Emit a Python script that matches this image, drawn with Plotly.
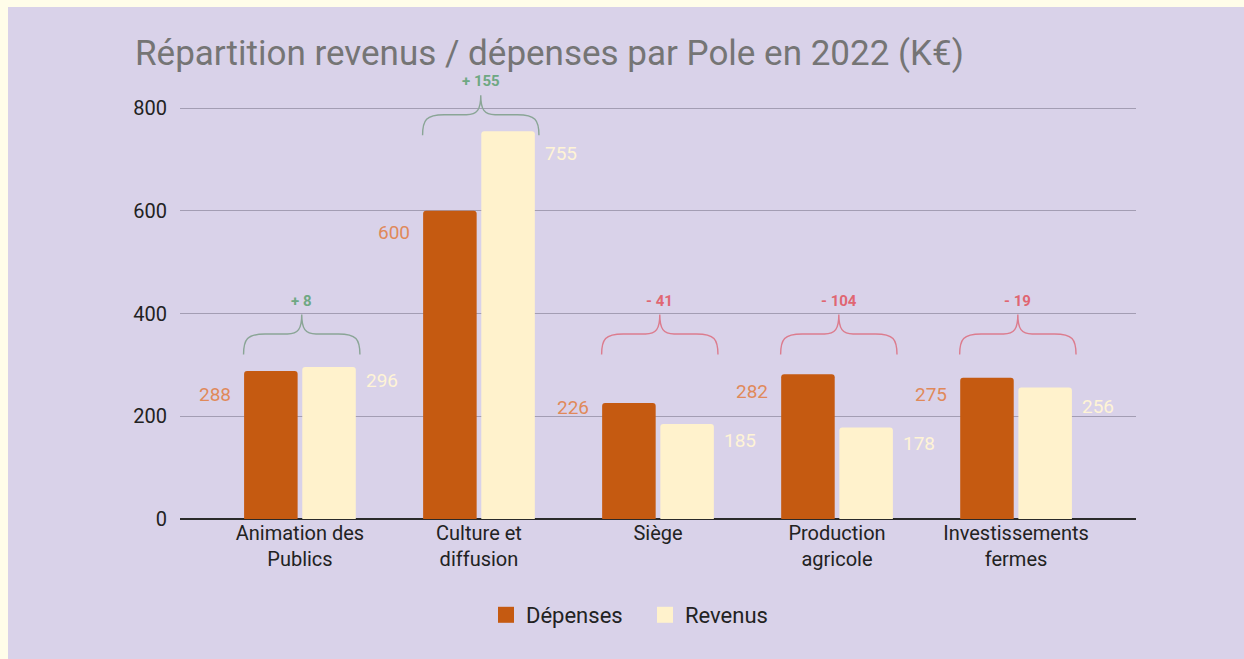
import plotly.graph_objects as go

categories = ["Animation des<br>Publics", "Culture et<br>diffusion", "Siège", "Production<br>agricole", "Investissements<br>fermes"]
depenses = [288, 600, 226, 282, 275]
revenus = [296, 755, 185, 178, 256]
y_ticks = [0, 200, 400, 600, 800]

# styling
C_DEP = "#C55A11"
C_REV = "#FFF2CC"
C_DEP_TXT = "#E0895A"
C_REV_TXT = "#FFF4D6"
C_POS = "#6FA883"
C_NEG = "#E06672"
C_POS_LINE = "#8AA596"
C_NEG_LINE = "#DC7C8E"
LAV = "#D9D2E9"
CREAM = "#FFFDE9"
FONT = "Roboto"

W, H = 1244, 659
ML, MT = 180, 70
PW, PH = 956, 449
MR = W - ML - PW
MB = H - MT - PH
YMAX = 874

dep_dy = [-23, -22, -5, -17, -17]
rev_dy = [-14, -22, -17, -16, -19]

x = list(range(len(categories)))

fig = go.Figure()
fig.add_trace(go.Bar(x=x, y=depenses, name="Dépenses", showlegend=False,
                     marker=dict(color=C_DEP, cornerradius=3, line_width=0)))
fig.add_trace(go.Bar(x=x, y=revenus, name="Revenus", showlegend=False,
                     marker=dict(color=C_REV, cornerradius=3, line_width=0)))
# legend entries with large square swatches
for name, col in [("Dépenses", C_DEP), ("Revenus", C_REV)]:
    fig.add_trace(go.Scatter(x=[None], y=[None], mode="markers", name=name,
                             marker=dict(symbol="square", size=16, color=col, line_width=0)))

shapes = []
# lavender card inside a thin cream frame (left 8px, top 7px)
shapes.append(dict(type="rect", xref="paper", yref="paper",
                   x0=(8 - ML) / PW, x1=(W + 5 - ML) / PW,
                   y0=-(H + 5 - MT - PH) / PH, y1=(MT + PH - 7) / PH,
                   fillcolor=LAV, line_width=0, layer="below"))
annotations = []
half = 0.325
for i, (d, r) in enumerate(zip(depenses, revenus)):
    diff = r - d
    pos = diff >= 0
    base = max(320, max(d, r) - 8)
    mid = base + 40
    tip = base + 78
    xc = i + 0.01
    xl, xr = xc - half, xc + half
    path = (f"M {xl},{base} C {xl},{mid - 10} {xl + 0.02},{mid} {xl + 0.12},{mid} "
            f"L {xc - 0.08},{mid} C {xc - 0.02},{mid} {xc},{mid + 10} {xc},{tip} "
            f"C {xc},{mid + 10} {xc + 0.02},{mid} {xc + 0.08},{mid} "
            f"L {xr - 0.12},{mid} C {xr - 0.02},{mid} {xr},{mid - 10} {xr},{base}")
    shapes.append(dict(type="path", xref="x", yref="y", path=path,
                       line=dict(color=C_POS_LINE if pos else C_NEG_LINE, width=1.4)))
    label = f"+ {diff}" if pos else f"- {abs(diff)}"
    annotations.append(dict(x=xc, y=tip, xref="x", yref="y", text=f"<b>{label}</b>", showarrow=False,
                            yanchor="bottom", yshift=3,
                            font=dict(family=FONT, size=15, color=C_POS if pos else C_NEG)))
    annotations.append(dict(x=i, y=d, xref="x", yref="y", text=str(d), showarrow=False,
                            xanchor="right", yanchor="middle", xshift=-67, yshift=dep_dy[i],
                            font=dict(family=FONT, size=19, color=C_DEP_TXT)))
    annotations.append(dict(x=i, y=r, xref="x", yref="y", text=str(r), showarrow=False,
                            xanchor="left", yanchor="middle", xshift=64, yshift=rev_dy[i],
                            font=dict(family=FONT, size=19, color=C_REV_TXT)))

fig.update_layout(
    width=W, height=H,
    margin=dict(l=ML, r=MR, t=MT, b=MB, autoexpand=False),
    paper_bgcolor=CREAM, plot_bgcolor="rgba(0,0,0,0)",
    barmode="group", bargap=0.35, bargroupgap=0.08,
    font=dict(family=FONT, size=20, color="#222222"),
    title=dict(text="Répartition revenus / dépenses par Pole en 2022 (K€)", x=135 / W, xanchor="left",
               xref="container", y=1 - 53 / H, yanchor="middle", yref="container",
               font=dict(family=FONT, size=35, color="#757575")),
    xaxis=dict(range=[-0.67, 4.67], tickmode="array", tickvals=x, ticktext=categories,
               showgrid=False, zeroline=False, showline=False, ticks="",
               tickfont=dict(family=FONT, size=20, color="#222222")),
    yaxis=dict(range=[0, YMAX], tickmode="array", tickvals=y_ticks, ticktext=[str(v) for v in y_ticks],
               showgrid=True, gridcolor="#A39DB3", gridwidth=1, zeroline=True, zerolinecolor="#2A2A2A",
               zerolinewidth=2, showline=False, ticks="", ticklabelstandoff=12,
               tickfont=dict(family=FONT, size=20, color="#222222")),
    legend=dict(orientation="h", x=(486 - ML) / PW, xanchor="left",
                y=-(615 - (MT + PH)) / PH, yanchor="middle",
                entrywidth=114, entrywidthmode="pixels",
                font=dict(family=FONT, size=22, color="#222222"), itemwidth=30,
                bgcolor="rgba(0,0,0,0)"),
    shapes=shapes, annotations=annotations,
)

fig.write_html("out.html",
               config={"displayModeBar": False},
               post_script=f"document.body.style.background='{CREAM}';"
                           "document.body.style.margin='0';"
                           "document.body.style.overflow='hidden';"
                           "document.documentElement.style.overflow='hidden';")
